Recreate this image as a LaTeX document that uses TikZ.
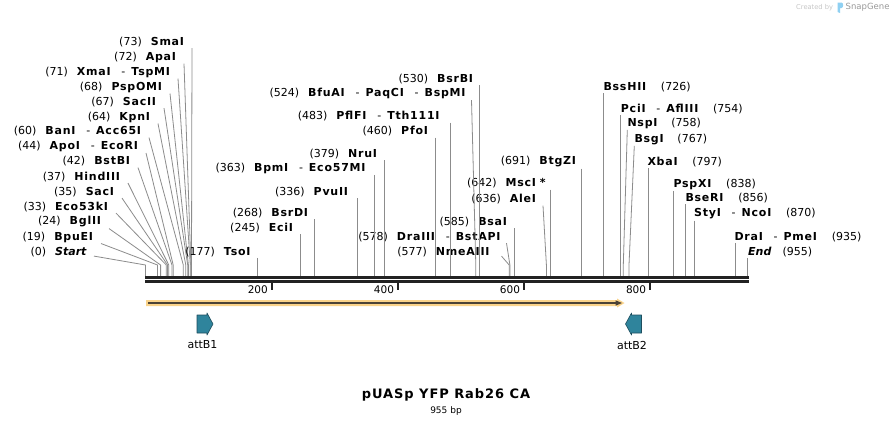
\documentclass[tikz,border=0pt]{standalone}
\usepackage{fontspec}
\setmainfont{DejaVu Sans}[BoldFeatures={LetterSpace=7}]
\usepackage{tikz}

\definecolor{cutgray}{HTML}{8C8C8C}
\definecolor{bbone}{HTML}{222222}
\definecolor{featorange}{HTML}{FAD38A}
\definecolor{featdark}{HTML}{4B4236}
\definecolor{attteal}{HTML}{2F849C}
\definecolor{attedge}{HTML}{1E4E5E}
\definecolor{logoblue}{HTML}{8FD0F2}

\newcommand{\gap}{\hspace{9pt}}
\newcommand{\orsep}{\hspace{10pt}-\hspace{6pt}}
\newcommand{\lblfont}{\fontsize{11}{13}\selectfont}

\begin{document}
\begin{tikzpicture}[x=1pt, y=-1pt,
  enzl/.style={anchor=east, inner sep=1pt, font=\lblfont},
  enzr/.style={anchor=west, inner sep=1pt, font=\lblfont},
  cut/.style={draw=cutgray, line width=0.8pt},
  ticklbl/.style={anchor=east, inner sep=0pt, font=\fontsize{10.5}{12}\selectfont},
  attbox/.style={fill=attteal, draw=attedge, line width=0.6pt, line join=round}]
\fill[white] (0,0) rectangle (894,426);
\useasboundingbox (0,0) rectangle (894,426);

% sites on the sequence, and the height where leaders turn down
\coordinate (knee) at (0,265);
\path (145.5,276.5) coordinate (s0) (157.5,276.5) coordinate (s19)
  (160.6,276.5) coordinate (s24) (166.3,276.5) coordinate (s33)
  (167.6,276.5) coordinate (s35) (168.8,276.5) coordinate (s37)
  (172.0,276.5) coordinate (s42) (173.2,276.5) coordinate (s44)
  (183.3,276.5) coordinate (s60) (185.8,276.5) coordinate (s64)
  (187.7,276.5) coordinate (s67) (188.4,276.5) coordinate (s68)
  (190.3,276.5) coordinate (s71) (190.9,276.5) coordinate (s72)
  (191.5,276.5) coordinate (s73) (257.1,276.5) coordinate (s177)
  (299.9,276.5) coordinate (s245) (314.4,276.5) coordinate (s268)
  (357.3,276.5) coordinate (s336) (374.3,276.5) coordinate (s363)
  (384.4,276.5) coordinate (s379) (435.5,276.5) coordinate (s460)
  (450.0,276.5) coordinate (s483) (475.8,276.5) coordinate (s524)
  (479.6,276.5) coordinate (s530) (509.2,276.5) coordinate (s577)
  (509.9,276.5) coordinate (s578) (514.3,276.5) coordinate (s585)
  (546.4,276.5) coordinate (s636) (550.2,276.5) coordinate (s642)
  (581.1,276.5) coordinate (s691) (603.2,276.5) coordinate (s726)
  (620.8,276.5) coordinate (s754) (623.3,276.5) coordinate (s758)
  (629.0,276.5) coordinate (s767) (647.9,276.5) coordinate (s797)
  (673.8,276.5) coordinate (s838) (685.1,276.5) coordinate (s856)
  (694.0,276.5) coordinate (s870) (734.9,276.5) coordinate (s935)
  (747.5,276.5) coordinate (s955);

% left fan
\node[enzl] (smai) at (186,42) {(73)\gap\textbf{SmaI}};
\node[enzl] (apai) at (178,57) {(72)\gap\textbf{ApaI}};
\node[enzl] (xmai) at (172,72) {(71)\gap\textbf{XmaI}\orsep\textbf{TspMI}};
\node[enzl] (pspomi) at (164,87) {(68)\gap\textbf{PspOMI}};
\node[enzl] (sacii) at (158,102) {(67)\gap\textbf{SacII}};
\node[enzl] (kpni) at (152,117) {(64)\gap\textbf{KpnI}};
\node[enzl] (bani) at (143,131.5) {(60)\gap\textbf{BanI}\orsep\textbf{Acc65I}};
\node[enzl] (apoi) at (140,146.5) {(44)\gap\textbf{ApoI}\orsep\textbf{EcoRI}};
\node[enzl] (bstbi) at (132,161.5) {(42)\gap\textbf{BstBI}};
\node[enzl] (hindiii) at (122,177) {(37)\gap\textbf{HindIII}};
\node[enzl] (saci) at (116,192) {(35)\gap\textbf{SacI}};
\node[enzl] (eco53ki) at (110,207) {(33)\gap\textbf{Eco53kI}};
\node[enzl] (bglii) at (103,222) {(24)\gap\textbf{BglII}};
\node[enzl] (bpuei) at (95,237) {(19)\gap\textbf{BpuEI}};
\node[enzl] (start) at (88,252) {(0)\gap\textbf{\textit{Start}}};
\draw[cut] (smai.south east) ++(6,0) -- (s73 |- knee) -- (s73);
\draw[cut] (apai.south east) ++(6,0) -- (s72 |- knee) -- (s72);
\draw[cut] (xmai.south east) ++(6,0) -- (s71 |- knee) -- (s71);
\draw[cut] (pspomi.south east) ++(6,0) -- (s68 |- knee) -- (s68);
\draw[cut] (sacii.south east) ++(6,0) -- (s67 |- knee) -- (s67);
\draw[cut] (kpni.south east) ++(6,0) -- (s64 |- knee) -- (s64);
\draw[cut] (bani.south east) ++(6,0) -- (s60 |- knee) -- (s60);
\draw[cut] (apoi.south east) ++(6,0) -- (s44 |- knee) -- (s44);
\draw[cut] (bstbi.south east) ++(6,0) -- (s42 |- knee) -- (s42);
\draw[cut] (hindiii.south east) ++(6,0) -- (s37 |- knee) -- (s37);
\draw[cut] (saci.south east) ++(6,0) -- (s35 |- knee) -- (s35);
\draw[cut] (eco53ki.south east) ++(6,0) -- (s33 |- knee) -- (s33);
\draw[cut] (bglii.south east) ++(6,0) -- (s24 |- knee) -- (s24);
\draw[cut] (bpuei.south east) ++(6,0) -- (s19 |- knee) -- (s19);
\draw[cut] (start.south east) ++(6,-2) -- (s0 |- knee) -- (s0);

% middle sites
\node[enzl] (tsoi) at (252.5,251.7) {(177)\gap\textbf{TsoI}};
\node[enzl] (ecii) at (295,228.3) {(245)\gap\textbf{EciI}};
\node[enzl] (bsrdi) at (310,213.3) {(268)\gap\textbf{BsrDI}};
\node[enzl] (pvuii) at (350,192) {(336)\gap\textbf{PvuII}};
\node[enzl] (bpmi) at (367.5,168.3) {(363)\gap\textbf{BpmI}\orsep\textbf{Eco57MI}};
\node[enzl] (nrui) at (379,154) {(379)\gap\textbf{NruI}};
\node[enzl] (pfoi) at (430,131.5) {(460)\gap\textbf{PfoI}};
\node[enzl] (pflfi) at (441.5,116.5) {(483)\gap\textbf{PflFI}\orsep\textbf{Tth111I}};
\node[enzl] (bfuai) at (467.5,93.5) {(524)\gap\textbf{BfuAI}\orsep\textbf{PaqCI}\orsep\textbf{BspMI}};
\node[enzl] (bsrbi) at (475,79) {(530)\gap\textbf{BsrBI}};
\node[enzl] (draiii) at (502.5,237) {(578)\gap\textbf{DraIII}\orsep\textbf{BstAPI}};
\node[enzl] (nmeaiii) at (491.5,252) {(577)\gap\textbf{NmeAIII}};
\node[enzl] (bsai) at (509,222) {(585)\gap\textbf{BsaI}};
\node[enzl] (alei) at (538,199.5) {(636)\gap\textbf{AleI}};
\node[enzl] (msci) at (547.5,183.5) {(642)\gap\textbf{MscI}\hspace{3pt}\textbf{*}};
\node[enzl] (btgzi) at (578,162) {(691)\gap\textbf{BtgZI}};
\draw[cut] (s177 |- tsoi.south) -- (s177);
\draw[cut] (s245 |- ecii.south) -- (s245);
\draw[cut] (s268 |- bsrdi.south) -- (s268);
\draw[cut] (s336 |- pvuii.south) -- (s336);
\draw[cut] (s363 |- bpmi.south) -- (s363);
\draw[cut] (s379 |- nrui.south) -- (s379);
\draw[cut] (s460 |- pfoi.south) -- (s460);
\draw[cut] (s483 |- pflfi.south) -- (s483);
\draw[cut] (bfuai.south east) ++(4,0) -- (s524 |- knee) -- (s524);
\draw[cut] (s530 |- bsrbi.south) -- (s530);
\draw[cut] (draiii.south east) ++(4,0) -- (s578 |- knee) -- (s578);
\draw[cut] (nmeaiii.south east) ++(10,-2) -- (s577 |- knee) -- (s577);
\draw[cut] (s585 |- bsai.south) -- (s585);
\draw[cut] (alei.south east) ++(5,0) -- (s636 |- knee) -- (s636);
\draw[cut] (s642 |- msci.south) -- (s642);
\draw[cut] (s691 |- btgzi.south) -- (s691);

% right side
\node[enzr] (bsshii) at (602.3,87) {\textbf{BssHII}\hspace{14pt}(726)};
\node[enzr] (pcii) at (619.7,109.3) {\textbf{PciI}\orsep\textbf{AflIII}\hspace{14pt}(754)};
\node[enzr] (nspi) at (626.3,123.3) {\textbf{NspI}\hspace{13pt}(758)};
\node[enzr] (bsgi) at (633.3,139.3) {\textbf{BsgI}\hspace{13pt}(767)};
\node[enzr] (xbai) at (646.3,162) {\textbf{XbaI}\hspace{14pt}(797)};
\node[enzr] (pspxi) at (672.3,184.3) {\textbf{PspXI}\hspace{14pt}(838)};
\node[enzr] (bseri) at (684.3,198.3) {\textbf{BseRI}\hspace{14pt}(856)};
\node[enzr] (styi) at (693,214) {\textbf{StyI}\orsep\textbf{NcoI}\hspace{14pt}(870)};
\node[enzr] (drai) at (733.3,236.7) {\textbf{DraI}\orsep\textbf{PmeI}\hspace{14pt}(935)};
\node[enzr] (endsite) at (747,251.7) {\textbf{\textit{End}}\hspace{11pt}(955)};
\draw[cut] (s726 |- bsshii.south) -- (s726);
\draw[cut] (s754 |- pcii.south) -- (s754);
\draw[cut] (nspi.south west) ++(1,0) -- (s758 |- knee) -- (s758);
\draw[cut] (bsgi.south west) ++(1,0) -- (s767 |- knee) -- (s767);
\draw[cut] (s797 |- xbai.south) -- (s797);
\draw[cut] (s838 |- pspxi.south) -- (s838);
\draw[cut] (s856 |- bseri.south) -- (s856);
\draw[cut] (s870 |- styi.south) -- (s870);
\draw[cut] (s935 |- drai.south) -- (s935);
\draw[cut] (s955 |- endsite.south) -- (s955);

% sequence and ruler
\draw[bbone, line width=2.8pt] (145,277.6) -- (749,277.6);
\draw[bbone, line width=2.8pt] (145,281.2) -- (749,281.2);
\draw[bbone, line width=1.8pt] (271.6,283) -- (271.6,290);
\draw[bbone, line width=1.8pt] (397.7,283) -- (397.7,290);
\draw[bbone, line width=1.8pt] (523.7,283) -- (523.7,290);
\draw[bbone, line width=1.8pt] (649.8,283) -- (649.8,290);
\node[ticklbl] (t200) at (268,289.3) {200};
\node[ticklbl] (t400) at (394.2,289.3) {400};
\node[ticklbl] (t600) at (520.2,289.3) {600};
\node[ticklbl] (t800) at (646.3,289.3) {800};

% features
\fill[featorange] (146,300) -- (617,300) -- (617,298.5) -- (624.5,303) -- (617,307.5) -- (617,306) -- (146,306) -- cycle;
\draw[featdark, line width=2pt] (148,303) -- (617,303);
\fill[featdark] (615.5,300.3) -- (622,303) -- (615.5,305.7) -- cycle;
\filldraw[attbox] (197,315) -- (207,315) -- (207,313) -- (213,324) -- (207,335) -- (207,333) -- (197,333) -- cycle;
\filldraw[attbox] (641.5,315) -- (631.5,315) -- (631.5,313) -- (625.5,324) -- (631.5,335) -- (631.5,333) -- (641.5,333) -- cycle;
\node[font=\lblfont] (attb1) at (202.5,344.5) {attB1};
\node[font=\lblfont] (attb2) at (632,345) {attB2};

% name and length
\node[font=\fontsize{13}{15}\selectfont\bfseries] (title) at (446,395) {pUASp YFP Rab26 CA};
\node[font=\fontsize{9}{11}\selectfont] (length) at (446,411.5) {955 bp};

% watermark
\node[anchor=west, inner sep=0pt, text=black!22, font=\fontsize{6.7}{8}\selectfont] (made) at (796,7.5) {Created by};
\fill[logoblue] (837.5,2.5) -- (841.5,2.5) to[out=0,in=0] (841.5,8) -- (840,8) -- (840,13) -- (837.5,12) -- cycle;
\node[anchor=west, inner sep=0pt, text=black!40, font=\fontsize{8.5}{10}\selectfont] (sg) at (845.5,7.5) {SnapGene};
\end{tikzpicture}
\end{document}
